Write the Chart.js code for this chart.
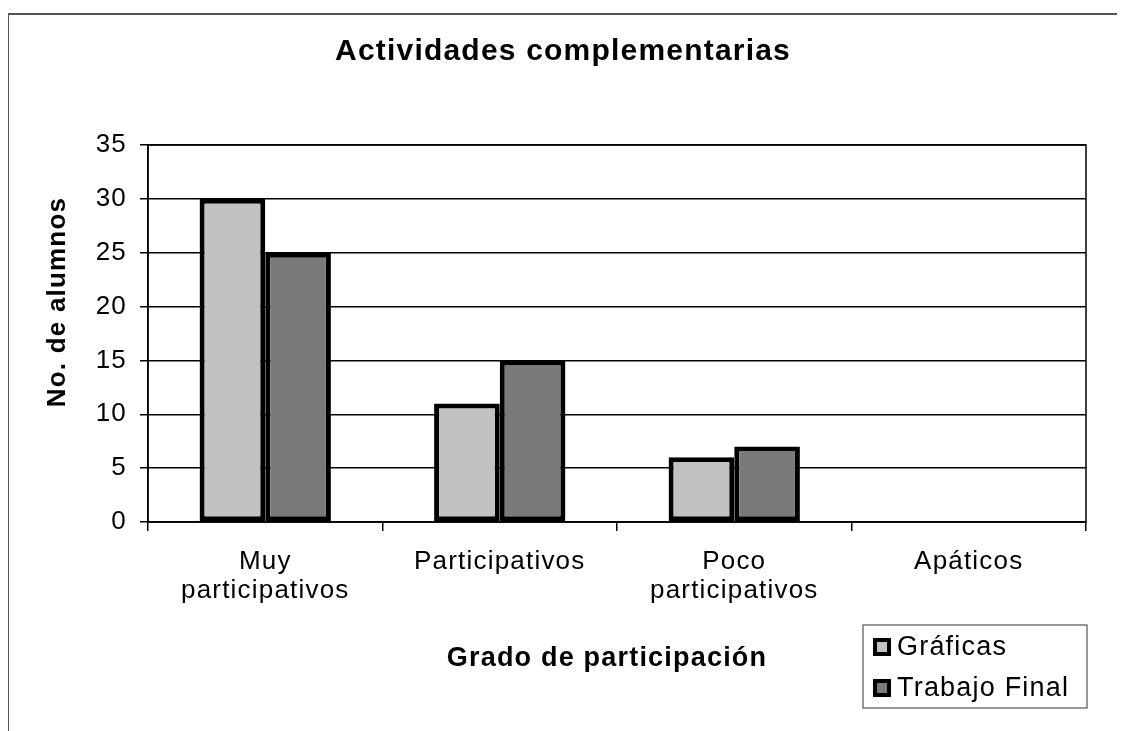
<!DOCTYPE html>
<html lang="es">
<head>
  <meta charset="UTF-8">
  <title>Actividades complementarias</title>
  <script src="https://cdn.jsdelivr.net/npm/chart.js"></script>
  <style>
    html, body {
      margin: 0;
      padding: 0;
      background: #fff;
    }
    .frame {
      position: absolute;
      left: 8px;
      top: 13px;
      width: 1108px;
      height: 718px;
      border-top: 2px solid #555;
      border-left: 1px solid #555;
    }
    .chart-box {
      position: absolute;
      left: 0;
      top: 0;
      width: 1122px;
      height: 731px;
    }
  </style>
</head>
<body>
  <div class="frame"></div>
  <div class="chart-box">
    <canvas id="chart" width="1122" height="731"></canvas>
  </div>

  <script>
    // datos
    const categories = [['Muy', 'participativos'], 'Participativos', ['Poco', 'participativos'], 'Apáticos'];
    const graficas = [30, 11, 6, 0];
    const trabajoFinal = [25, 15, 7, 0];
    const seriesNames = ['Gráficas', 'Trabajo Final'];

    const FONT = 'Arial, "Liberation Sans", sans-serif';
    const SPACING = '1.2px';

    // el texto del original es más ancho: espaciado entre letras en todo el canvas
    const spacing = {
      id: 'spacing',
      beforeUpdate(chart) { chart.ctx.letterSpacing = SPACING; },
      beforeLayout(chart) { chart.ctx.letterSpacing = SPACING; },
      beforeDraw(chart) { chart.ctx.letterSpacing = SPACING; }
    };

    // borde del área, títulos de ejes y leyenda
    const extras = {
      id: 'extras',
      afterDraw(chart) {
        const ctx = chart.ctx;
        const a = chart.chartArea;
        ctx.save();
        ctx.strokeStyle = '#000';
        ctx.lineWidth = 1.5;
        ctx.strokeRect(a.left, a.top, a.right - a.left, a.bottom - a.top);

        ctx.fillStyle = '#000';
        ctx.font = 'bold 27px ' + FONT;
        ctx.textAlign = 'center';
        ctx.textBaseline = 'middle';
        ctx.fillText('Grado de participación', 607, 659);

        ctx.save();
        ctx.translate(58, 302);
        ctx.rotate(-Math.PI / 2);
        ctx.font = 'bold 26px ' + FONT;
        ctx.fillText('No. de alumnos', 0, 0);
        ctx.restore();

        // leyenda
        ctx.lineWidth = 1;
        ctx.strokeStyle = '#333';
        ctx.strokeRect(863, 625, 224, 83);
        ctx.font = '27px ' + FONT;
        ctx.textAlign = 'left';
        chart.data.datasets.forEach((ds, i) => {
          const y = 647 + i * 41;
          ctx.fillStyle = ds.backgroundColor;
          ctx.fillRect(873, y - 9, 18, 18);
          ctx.strokeStyle = '#000';
          ctx.lineWidth = 4;
          ctx.strokeRect(875, y - 7, 14, 14);
          ctx.fillStyle = '#000';
          ctx.fillText(ds.label, 897, y + 1);
        });
        ctx.restore();
      }
    };

    new Chart(document.getElementById('chart'), {
      type: 'bar',
      data: {
        labels: categories,
        datasets: [
          {
            label: seriesNames[0],
            data: graficas,
            backgroundColor: '#c2c2c2',
            borderColor: '#000',
            borderWidth: 5,
            borderSkipped: false
          },
          {
            label: seriesNames[1],
            data: trabajoFinal,
            backgroundColor: '#7a7a7a',
            borderColor: '#000',
            borderWidth: 5,
            borderSkipped: false
          }
        ]
      },
      options: {
        responsive: false,
        animation: false,
        categoryPercentage: 0.56,
        barPercentage: 1.0,
        layout: {
          padding: { top: 34, left: 40, right: 36, bottom: 10 }
        },
        plugins: {
          legend: { display: false },
          tooltip: { enabled: false },
          title: {
            display: true,
            text: 'Actividades complementarias',
            color: '#000',
            font: { family: FONT, size: 30, weight: 'bold', lineHeight: 1.2 },
            padding: { top: 0, bottom: 75 }
          }
        },
        scales: {
          x: {
            grid: {
              display: true,
              drawOnChartArea: false,
              offset: true,
              color: '#000',
              tickLength: 9,
              lineWidth: 1.5
            },
            border: { display: true, color: '#000', width: 1.5 },
            ticks: {
              color: '#000',
              font: { family: FONT, size: 26, lineHeight: 1.1 },
              maxRotation: 0,
              autoSkip: false,
              padding: 17
            },
            afterFit(scale) {
              scale.height = 199;
            }
          },
          y: {
            min: 0,
            max: 35,
            ticks: {
              stepSize: 5,
              color: '#000',
              font: { family: FONT, size: 26 },
              padding: 13
            },
            grid: {
              color: '#000',
              lineWidth: 1.5,
              tickLength: 8
            },
            border: { display: true, color: '#000', width: 1.5 },
            afterFit(scale) {
              scale.width = 108;
            }
          }
        }
      },
      plugins: [spacing, extras]
    });
  </script>
</body>
</html>
